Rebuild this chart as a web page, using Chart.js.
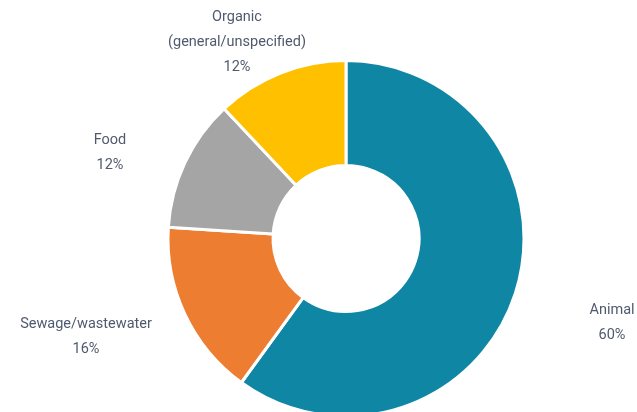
<!DOCTYPE html>
<html>
<head>
<meta charset="utf-8">
<script src="https://cdn.jsdelivr.net/npm/chart.js@4.4.1/dist/chart.umd.min.js"></script>
<style>
    html, body { margin: 0; padding: 0; background: #fff; overflow: hidden; }
    #wrap { position: relative; width: 637px; height: 418px; }
</style>
</head>
<body>
<div id="wrap"><canvas id="sourceChart"></canvas></div>
<script>
// data
const categories = ["Animal", "Sewage/wastewater", "Food", "Organic\n(general/unspecified)"];
const shares = [60, 16, 12, 12];
const sliceColors = ["#1086a5", "#ed7d31", "#a5a5a5", "#ffc000"];

// where each label block sits, relative to the ring centre (layout only)
const labelOffsets = [
    { dx: 266, dy: 84 },
    { dx: -260, dy: 98 },
    { dx: -236, dy: -86 },
    { dx: -109, dy: -196 }
];

const outsideLabels = {
    id: 'outsideLabels',
    afterDatasetsDraw(chart) {
        const ctx = chart.ctx;
        const arcs = chart.getDatasetMeta(0).data;
        ctx.save();
        ctx.font = "14.5px Roboto, sans-serif";
        ctx.fillStyle = "#505a6e";
        ctx.textAlign = "center";
        ctx.textBaseline = "middle";
        const lineH = 25;
        arcs.forEach((arc, i) => {
            const lines = categories[i].split("\n").concat([shares[i] + "%"]);
            const cx = arc.x + labelOffsets[i].dx;
            const cy = arc.y + labelOffsets[i].dy;
            const top = cy - (lines.length - 1) * lineH / 2;
            lines.forEach((t, j) => ctx.fillText(t, cx, top + j * lineH));
        });
        ctx.restore();
    }
};

new Chart(document.getElementById('sourceChart').getContext('2d'), {
    type: 'doughnut',
    data: {
        labels: categories,
        datasets: [{
            data: shares,
            backgroundColor: sliceColors,
            borderColor: "#ffffff",
            borderWidth: 3,
            hoverOffset: 0
        }]
    },
    options: {
        responsive: true,
        maintainAspectRatio: false,
        animation: false,
        cutout: '41%',
        layout: { padding: { top: 59, bottom: 0, left: 55, right: 0 } },
        plugins: {
            legend: { display: false },
            tooltip: { enabled: false }
        }
    },
    plugins: [outsideLabels]
});
</script>
</body>
</html>
